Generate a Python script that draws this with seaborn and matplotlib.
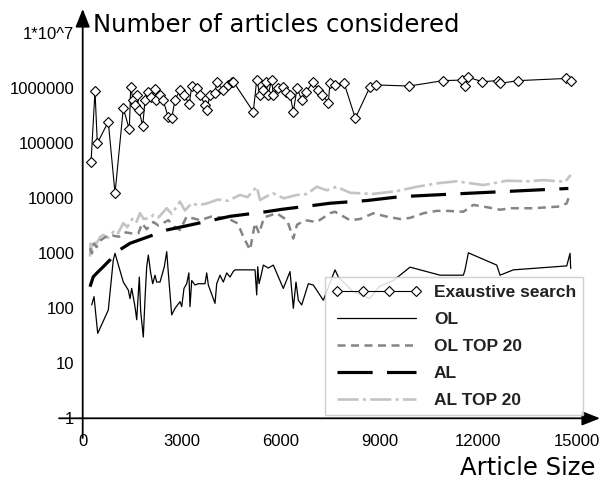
import matplotlib
matplotlib.use("Agg")
import matplotlib.pyplot as plt
import seaborn as sns

# ---------------- data ----------------
series_labels = ["Exaustive search", "OL", "OL TOP 20", "AL", "AL TOP 20"]

exh_x = [252, 373, 443, 776, 980, 1231, 1413, 1456, 1526, 1586, 1647, 1708, 1820,
         1890, 1980, 2072, 2193, 2223, 2345, 2436, 2596, 2699, 2800, 2951, 3072,
         3233, 3306, 3458, 3558, 3709, 3761, 3861, 4013, 4064, 4264, 4407, 4519,
         4568, 5174, 5277, 5378, 5478, 5560, 5620, 5732, 5781, 5924, 6084, 6166,
         6288, 6388, 6500, 6642, 6773, 6994, 7137, 7258, 7449, 7500, 7652, 7925,
         8268, 8714, 8896, 9906, 10937, 11495, 11595, 11695, 12120, 12605, 12657,
         13212, 14660, 14800]
exh_y = [45000, 900000, 100000, 247000, 12300, 433000, 180000, 1040000, 615000,
         500000, 760000, 400000, 205000, 615000, 850000, 690000, 960000, 615000,
         760000, 615000, 297000, 285000, 615000, 930000, 760000, 515000, 1100000,
         1000000, 760000, 500000, 400000, 760000, 810000, 1320000, 930000, 1150000,
         1320000, 1320000, 375000, 1410000, 760000, 930000, 1290000, 760000,
         1410000, 760000, 1000000, 1070000, 850000, 760000, 375000, 1000000,
         615000, 850000, 1320000, 930000, 760000, 550000, 1260000, 1150000,
         1260000, 285000, 1070000, 1150000, 1100000, 1380000, 1410000, 1100000,
         1580000, 1320000, 1380000, 1230000, 1380000, 1510000, 1380000]

ol_x = [273, 343, 455, 776, 928, 980, 1231, 1383, 1435, 1486, 1586, 1638, 1717,
        1759, 1838, 1890, 1941, 1990, 2062, 2123, 2193, 2244, 2345, 2475, 2548,
        2597, 2699, 2800, 2951, 3003, 3072, 3154, 3220, 3254, 3306, 3406, 3506,
        3709, 3761, 3810, 4013, 4064, 4164, 4264, 4368, 4468, 4568, 4619, 5226,
        5277, 5308, 5348, 5399, 5478, 5629, 5781, 6084, 6288, 6388, 6469, 6540,
        6642, 6843, 6994, 7297, 7652, 7753, 8200, 8700, 9000, 9422, 9927, 10837,
        11545, 11595, 11696, 12557, 12657, 13060, 14680, 14780, 14800]
ol_y = [115, 163, 35, 93, 760, 1000, 300, 214, 150, 230, 107, 62, 370, 87, 30,
        150, 570, 930, 440, 280, 400, 300, 300, 570, 1070, 440, 76, 100, 132, 107,
        230, 280, 440, 107, 320, 265, 280, 280, 440, 265, 123, 280, 400, 300, 440,
        370, 470, 500, 500, 175, 570, 280, 370, 610, 540, 610, 230, 465, 100, 300,
        140, 115, 280, 265, 140, 500, 370, 200, 150, 250, 320, 560, 400, 400, 500,
        1020, 610, 400, 500, 590, 1000, 530]

olt_x = [222, 280, 340, 420, 530, 700, 900, 1100, 1300, 1500, 1687, 1800, 1941,
         2142, 2300, 2597, 2800, 2951, 3154, 3558, 3900, 4368, 4700, 4871, 5075,
         5226, 5350, 5500, 5884, 6200, 6388, 6500, 6742, 7097, 7500, 7650, 8107,
         8410, 8814, 9220, 9624, 9928, 10331, 10737, 11089, 11545, 11848, 12252,
         12657, 13000, 13667, 14477, 14679, 14780]
olt_y = [1240, 1000, 1500, 1300, 1700, 2000, 2100, 2000, 2400, 2300, 2300, 3500,
         2740, 3700, 3200, 4000, 3000, 2650, 4650, 4000, 4650, 4400, 3500, 2000,
         1150, 3550, 2300, 4500, 5350, 4000, 1860, 3300, 4000, 3700, 5350, 5700,
         4000, 4200, 5350, 4650, 4200, 4400, 5350, 5900, 5900, 5700, 7600, 6900,
         6200, 6600, 6600, 7100, 8100, 12300]

al_x = [222, 321, 473, 625, 828, 980, 1435, 1990, 2548, 3003, 4064, 4468, 5581,
        6036, 7097, 7500, 8614, 9624, 11647, 13163, 14729]
al_y = [247, 375, 465, 570, 760, 1020, 1520, 2000, 2650, 3030, 4160, 4700, 5720,
        6300, 7560, 8130, 9100, 10700, 12300, 13600, 15100]

alt_x = [222, 240, 280, 330, 420, 530, 625, 760, 928, 1050, 1231, 1350, 1500,
         1620, 1738, 1850, 2041, 2150, 2300, 2548, 2700, 2951, 3100, 3300, 3500,
         3780, 4100, 4400, 4771, 5000, 5277, 5378, 5600, 5781, 6100, 6490, 6800,
         7097, 7400, 7704, 8107, 8800, 9524, 10130, 10737, 11343, 12151, 12860,
         13500, 13970, 14630, 14800]
alt_y = [870, 1500, 1100, 1700, 1500, 2000, 2150, 1900, 2460, 2200, 3520, 3000,
         4200, 3600, 5350, 4200, 4400, 5000, 4500, 6600, 5200, 8700, 6000, 8100,
         7500, 8100, 9500, 9000, 11500, 10500, 16200, 9300, 11000, 12300, 10000,
         11500, 12000, 16200, 14000, 16200, 12600, 12000, 13500, 16200, 18700,
         20400, 17400, 20900, 20400, 21400, 20000, 26500]

x_ticks = [0, 3000, 6000, 9000, 12000, 15000]
x_tick_labels = ["0", "3000", "6000", "9000", "12000", "15000"]
y_ticks = [1, 10, 100, 1000, 10000, 100000, 1000000, 10000000]
y_tick_labels = ["1", "10", "100", "1000", "10000", "100000", "1000000", "1*10^7"]

title_text = "Number of articles considered"
xlabel_text = "Article Size"

# ---------------- figure ----------------
sns.set_style("white")
plt.rcParams["font.family"] = ["Liberation Sans", "DejaVu Sans"]
plt.rcParams["text.color"] = "black"

W, H = 602, 480
fig = plt.figure(figsize=(W / 100, H / 100), dpi=100)
x0, x1 = 82.7, 577.3
ytop, ybot = 33.3, 418.3
ax = fig.add_axes([x0 / W, (H - ybot) / H, (x1 - x0) / W, (ybot - ytop) / H])
ax.set_facecolor("white")

common = dict(ax=ax, estimator=None, sort=False, errorbar=None)

sns.lineplot(x=alt_x, y=alt_y, color="#c4c4c4", linewidth=1.9,
             linestyle=(0, (8, 1.6, 1.2, 1.6)), **common)
h_alt = ax.lines[-1]
sns.lineplot(x=olt_x, y=olt_y, color="#858585", linewidth=1.8,
             linestyle=(0, (3.2, 2.2)), **common)
h_olt = ax.lines[-1]
sns.lineplot(x=al_x, y=al_y, color="black", linewidth=2.3,
             linestyle=(0, (11, 4.5)), **common)
h_al = ax.lines[-1]
sns.lineplot(x=ol_x, y=ol_y, color="black", linewidth=0.9, **common)
h_ol = ax.lines[-1]
sns.lineplot(x=exh_x, y=exh_y, color="black", linewidth=0.8, marker="D",
             markersize=5.0, markerfacecolor="white", markeredgecolor="black",
             markeredgewidth=0.8, **common)
h_exh = ax.lines[-1]

ax.set_yscale("log")
ax.set_xlim(0, 15000)
ax.set_ylim(1, 1e7)
ax.set_xticks(x_ticks)
ax.set_xticklabels(x_tick_labels)
ax.set_yticks(y_ticks)
ax.set_yticklabels(y_tick_labels)
ax.minorticks_off()
ax.set_xlabel("")
ax.set_ylabel("")
for s in ax.spines.values():
    s.set_visible(False)
ax.tick_params(axis="both", direction="inout", length=9, width=1.0,
               colors="black", labelsize=12)
ax.tick_params(axis="x", pad=6.5)
ax.tick_params(axis="y", pad=1.5)

# axis lines with arrow heads
arrow = dict(arrowstyle="-|>,head_length=0.55,head_width=0.22", color="black",
             lw=1.3, mutation_scale=20, shrinkA=0, shrinkB=0)
ax.annotate("", xy=(x0, H - 9), xytext=(x0, H - 438), xycoords="figure pixels",
            textcoords="figure pixels", arrowprops=arrow, annotation_clip=False)
ax.annotate("", xy=(600, H - ybot), xytext=(59, H - ybot), xycoords="figure pixels",
            textcoords="figure pixels", arrowprops=arrow, annotation_clip=False)

fig.text(93 / W, (H - 31.7) / H, title_text, fontsize=17.5, va="baseline",
         ha="left", color="black", family=["DejaVu Sans"])
fig.text(595 / W, (H - 475) / H, xlabel_text, fontsize=17.5, va="baseline",
         ha="right", color="black", family=["DejaVu Sans"])

leg = ax.legend([h_exh, h_ol, h_olt, h_al, h_alt], series_labels,
                loc="lower right", bbox_to_anchor=(583.3 / W, (H - 415) / H),
                bbox_transform=fig.transFigure, borderaxespad=0,
                numpoints=4, handlelength=5.1, handletextpad=0.75,
                labelspacing=0.68, borderpad=0.42, fancybox=False,
                framealpha=0.85, edgecolor="#c8c8c8",
                prop=dict(family=["Liberation Sans", "DejaVu Sans"],
                          weight="bold", size=12.5))
leg.get_frame().set_linewidth(1.0)
for t in leg.get_texts():
    t.set_color("#222222")

fig.savefig("out.png", dpi=100, facecolor="white")
